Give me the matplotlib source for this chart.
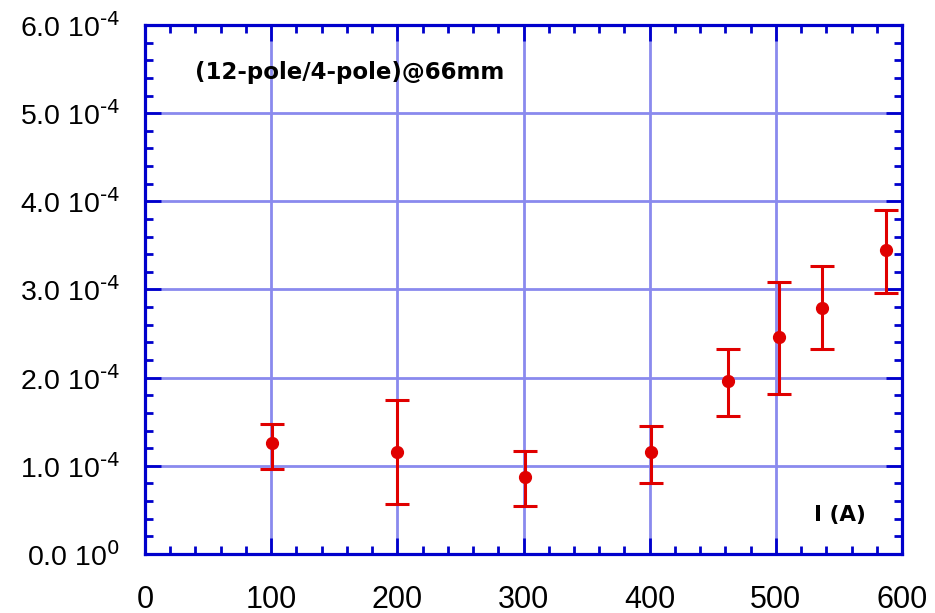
import numpy as np
import matplotlib
matplotlib.use("Agg")
import matplotlib.pyplot as plt
from matplotlib.ticker import MultipleLocator, FuncFormatter

# current (A) and ratio values, with lower/upper error bar ends
current = [100.6, 200, 301, 400.7, 462, 502.5, 536.5, 587]
ratio = [1.256, 1.16, 0.87, 1.16, 1.96, 2.46, 2.795, 3.447]
err_top = [1.477, 1.75, 1.17, 1.447, 2.326, 3.083, 3.265, 3.90]
err_bot = [0.962, 0.568, 0.54, 0.81, 1.568, 1.81, 2.326, 2.96]

plt.rcParams['font.family'] = ['Liberation Sans', 'DejaVu Sans']

x = np.array(current)
y = np.array(ratio) * 1e-4
lo = y - np.array(err_bot) * 1e-4
hi = np.array(err_top) * 1e-4 - y

W, H = 935, 613
fig = plt.figure(figsize=(W / 100, H / 100), dpi=100)
ax = fig.add_axes([145 / W, 1 - 554 / H, (902 - 145) / W, (554 - 25) / H])

blue = '#0000cc'
ax.grid(True, which='major', color='#8a8aee', lw=2.0)
ax.set_axisbelow(True)

ax.errorbar(x, y, yerr=[lo, hi], fmt='o', color='#e00000', ms=8.5,
            elinewidth=2.2, capsize=8.5, capthick=2.2, zorder=3)

ax.set_xlim(0, 600)
ax.set_ylim(0, 6e-4)
ax.xaxis.set_major_locator(MultipleLocator(100))
ax.xaxis.set_minor_locator(MultipleLocator(20))
ax.yaxis.set_major_locator(MultipleLocator(1e-4))
ax.yaxis.set_minor_locator(MultipleLocator(0.2e-4))


def yfmt(v, pos):
    if abs(v) < 1e-12:
        return r'0.0 10$^{0}$'
    return r'%.1f 10$^{\text{-}4}$' % (v * 1e4)


ax.yaxis.set_major_formatter(FuncFormatter(yfmt))

for s in ax.spines.values():
    s.set_color(blue)
    s.set_linewidth(2.3)

ax.tick_params(which='both', direction='in', top=True, right=True, color=blue,
               labelcolor='black')
ax.tick_params(which='major', length=11.5, width=2)
ax.tick_params(which='minor', length=6, width=2)
ax.tick_params(axis='x', pad=22, labelsize=22)
ax.tick_params(axis='y', pad=18, labelsize=20.5)

fig.text(195 / W, 1 - 72 / H, '(12-pole/4-pole)@66mm', fontsize=16.5,
         fontweight='bold', family='DejaVu Sans', va='center', ha='left')
fig.text(814 / W, 1 - 515 / H, 'I (A)', fontsize=15.5, fontweight='bold',
         family='DejaVu Sans', va='center', ha='left')

fig.savefig('out.png', dpi=100)
